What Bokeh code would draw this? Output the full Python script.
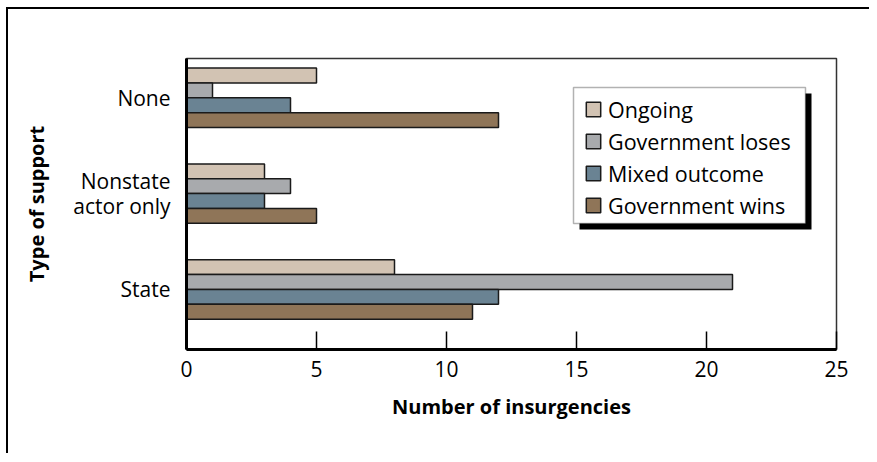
from bokeh.plotting import figure
from bokeh.models import Range1d, FixedTicker, Legend, LegendItem, ColumnDataSource, BoxAnnotation
from bokeh.embed import file_html
from bokeh.resources import INLINE

# ---- data ----
categories = ["State", "Nonstate\nactor only", "None"]
series_names = ["Ongoing", "Government loses", "Mixed outcome", "Government wins"]
ongoing = [8, 3, 5]
gov_loses = [21, 4, 1]
mixed = [12, 3, 4]
gov_wins = [11, 5, 12]
x_ticks = [0, 5, 10, 15, 20, 25]

colors = ["#D2C3B3", "#A8AAAD", "#6A8393", "#8F7558"]
series_values = [ongoing, gov_loses, mixed, gov_wins]

FONT = "Open Sans"
FRAME_W, FRAME_H = 650, 291
Y0, Y1 = -0.627, 2.41
X0, X1 = 0, 25

p = figure(frame_width=FRAME_W, frame_height=FRAME_H,
           x_range=Range1d(X0, X1), y_range=Range1d(Y0, Y1),
           output_backend="svg", toolbar_location=None,
           min_border_left=178, min_border_top=49, min_border_right=33, min_border_bottom=104,
           background_fill_color="white", border_fill_color="white")

p.styles = {"margin-left": "6px", "margin-top": "7px",
            "border-left": "2px solid black", "border-top": "2px solid black"}

bar_h = 0.155
offsets = [1.5 * bar_h, 0.5 * bar_h, -0.5 * bar_h, -1.5 * bar_h]
ypos = list(range(len(categories)))

renderers = []
for vals, col, off in zip(series_values, colors, offsets):
    src = ColumnDataSource(dict(y=[y + off for y in ypos], right=vals))
    r = p.hbar(y="y", right="right", left=0, height=bar_h, source=src,
               fill_color=col, line_color="#1a1a1a", line_width=1.5)
    renderers.append(r)

# axes
p.xgrid.visible = False
p.ygrid.visible = False
p.outline_line_color = "#333333"
p.outline_line_width = 1.5

xa = p.xaxis[0]
xa.ticker = FixedTicker(ticks=x_ticks)
xa.axis_label = "Number of insurgencies"
xa.axis_line_width = 3
xa.axis_line_color = "black"
xa.major_tick_in = 18
xa.major_tick_out = 0
xa.major_tick_line_width = 1.5
xa.major_tick_line_color = "black"
xa.minor_tick_line_color = None
xa.major_label_standoff = 11
xa.major_label_text_font = FONT
xa.major_label_text_font_size = "21px"
xa.major_label_text_color = "black"
xa.axis_label_text_font = FONT
xa.axis_label_text_font_style = "bold"
xa.axis_label_text_font_size = "20px"
xa.axis_label_text_color = "black"
xa.axis_label_standoff = 13

ya = p.yaxis[0]
ya.ticker = FixedTicker(ticks=ypos)
ya.major_label_overrides = {i: c for i, c in zip(ypos, categories)}
ya.axis_label = "Type of support"
ya.axis_line_width = 3
ya.axis_line_color = "black"
ya.major_tick_line_color = None
ya.minor_tick_line_color = None
ya.major_label_standoff = 10
ya.major_label_text_font = FONT
ya.major_label_text_font_size = "21px"
ya.major_label_text_line_height = 0.88
ya.major_label_text_color = "black"
ya.axis_label_text_font = FONT
ya.axis_label_text_font_style = "bold"
ya.axis_label_text_font_size = "20px"
ya.axis_label_text_color = "black"
ya.axis_label_standoff = 20

# legend box with drop shadow (frame pixel geometry -> data units)
BOX_L, BOX_R, BOX_B, BOX_T, SHADOW = 387, 619, 126, 262, 6
sx = (X1 - X0) / FRAME_W
sy = (Y1 - Y0) / FRAME_H


def box(l, r, b, t, **kw):
    return BoxAnnotation(left=X0 + l * sx, right=X0 + r * sx,
                         bottom=Y0 + b * sy, top=Y0 + t * sy, **kw)


p.add_layout(box(BOX_L + SHADOW, BOX_R + SHADOW, BOX_B - SHADOW, BOX_T - SHADOW,
                 fill_color="black", fill_alpha=1.0, line_color=None))
p.add_layout(box(BOX_L, BOX_R, BOX_B, BOX_T,
                 fill_color="white", fill_alpha=1.0, line_color="black", line_width=1.5))

legend = Legend(items=[LegendItem(label=n, renderers=[r]) for n, r in zip(series_names, renderers)],
                location=(398, 129))
legend.label_text_font = FONT
legend.label_text_font_size = "21.5px"
legend.label_text_color = "black"
legend.label_height = 30
legend.label_standoff = 6
legend.glyph_width = 18
legend.glyph_height = 18
legend.spacing = 2
legend.padding = 0
legend.margin = 0
legend.border_line_color = None
legend.background_fill_alpha = 0.0
p.add_layout(legend, "center")

open("out.html", "w").write(file_html(p, INLINE))
